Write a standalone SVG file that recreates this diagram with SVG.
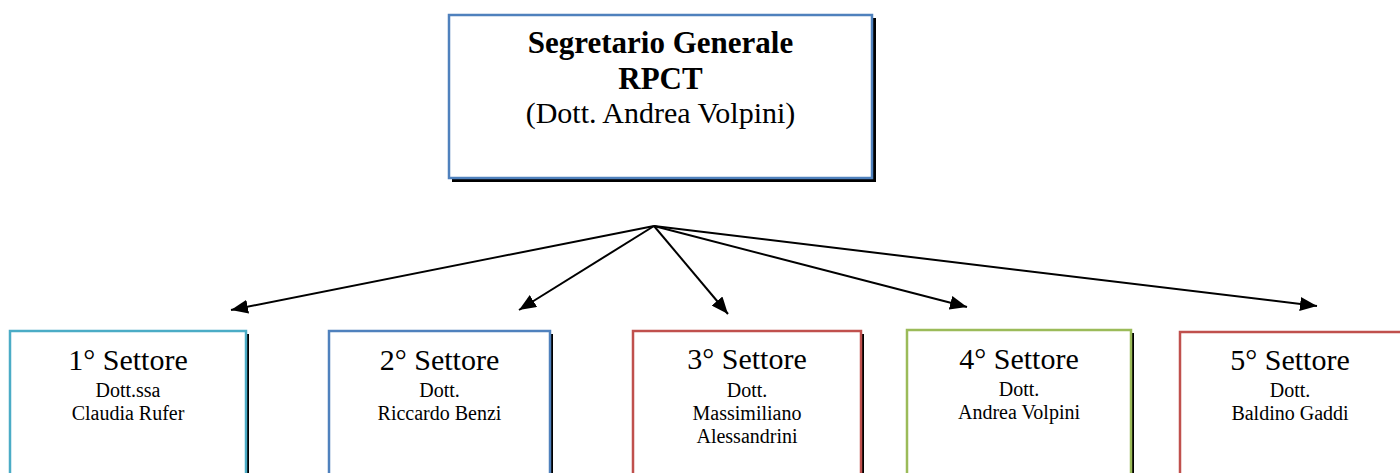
<svg xmlns="http://www.w3.org/2000/svg" width="1400" height="473" viewBox="0 0 1400 473">
<defs>
<style>
.sh{fill:#000}
.bx{fill:#fff;stroke-width:2.5}
.t{font-family:"Liberation Serif","Times New Roman",serif;fill:#000;text-anchor:middle}
.h{font-size:30px}
.b{font-weight:bold;font-size:31px}
.s{font-size:20px}
.c{stroke:#000;stroke-width:2;fill:none}
</style>
<marker id="ah" viewBox="0 0 17 14" refX="17" refY="7" markerWidth="17" markerHeight="14" markerUnits="userSpaceOnUse" orient="auto">
<path d="M0,0 L17,7 L0,14 Z" fill="#000"/>
</marker>
</defs>
<rect width="1400" height="473" fill="#fff"/>
<g id="top">
<rect class="sh" x="452" y="18" width="424" height="164"/>
<rect class="bx" x="449" y="15" width="423" height="163" stroke="#4f81bd"/>
<text class="t h b" x="660.5" y="53">Segretario Generale</text>
<text class="t h b" x="660.5" y="89">RPCT</text>
<text class="t h" x="660.5" y="123">(Dott. Andrea Volpini)</text>
</g>
<g id="connectors">
<line class="c" x1="654" y1="226" x2="231" y2="310" marker-end="url(#ah)"/>
<line class="c" x1="654" y1="226" x2="519" y2="310" marker-end="url(#ah)"/>
<line class="c" x1="654" y1="226" x2="728" y2="314" marker-end="url(#ah)"/>
<line class="c" x1="654" y1="226" x2="967" y2="307" marker-end="url(#ah)"/>
<line class="c" x1="654" y1="226" x2="1317" y2="306" marker-end="url(#ah)"/>
</g>
<g id="s1">
<rect class="sh" x="13" y="334" width="236" height="150"/>
<rect class="bx" x="10" y="331" width="236" height="150" stroke="#4bacc6"/>
<text class="t h" x="128" y="370">1° Settore</text>
<text class="t s" x="128" y="397">Dott.ssa</text>
<text class="t s" x="128" y="420">Claudia Rufer</text>
</g>
<g id="s2">
<rect class="sh" x="332" y="334" width="221" height="150"/>
<rect class="bx" x="329" y="331" width="221" height="150" stroke="#4f81bd"/>
<text class="t h" x="439.5" y="370">2° Settore</text>
<text class="t s" x="439.5" y="397">Dott.</text>
<text class="t s" x="439.5" y="420">Riccardo Benzi</text>
</g>
<g id="s3">
<rect class="sh" x="636" y="334" width="228" height="150"/>
<rect class="bx" x="633" y="331" width="228" height="150" stroke="#c0504d"/>
<text class="t h" x="747" y="369">3° Settore</text>
<text class="t s" x="747" y="397">Dott.</text>
<text class="t s" x="747" y="420">Massimiliano</text>
<text class="t s" x="747" y="443">Alessandrini</text>
</g>
<g id="s4">
<rect class="sh" x="910" y="333" width="224" height="150"/>
<rect class="bx" x="907" y="330" width="224" height="150" stroke="#9bbb59"/>
<text class="t h" x="1019" y="369">4° Settore</text>
<text class="t s" x="1019" y="396">Dott.</text>
<text class="t s" x="1019" y="419">Andrea Volpini</text>
</g>
<g id="s5">
<rect class="sh" x="1183" y="335" width="222" height="150"/>
<rect class="bx" x="1180" y="332" width="222" height="150" stroke="#c0504d"/>
<text class="t h" x="1290" y="370">5° Settore</text>
<text class="t s" x="1290" y="397">Dott.</text>
<text class="t s" x="1290" y="420">Baldino Gaddi</text>
</g>
</svg>
